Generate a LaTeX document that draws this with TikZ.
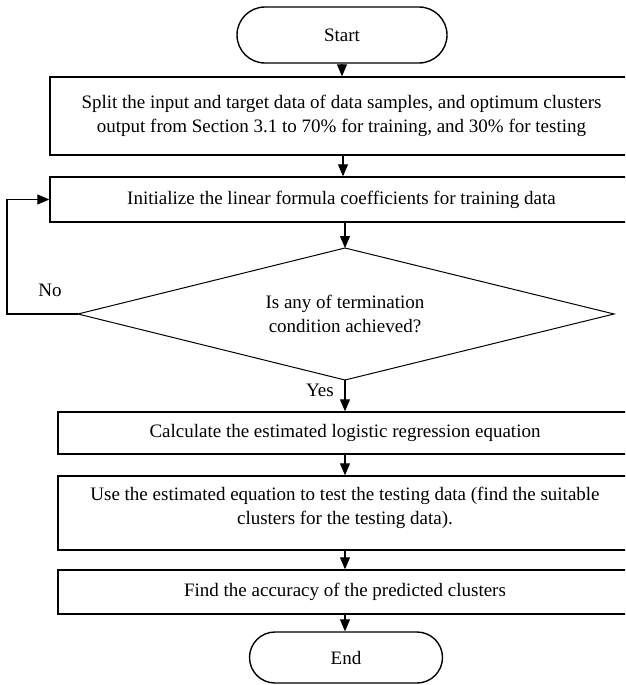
\documentclass[tikz,border=0pt]{standalone}
\usepackage{fontspec}
\setmainfont{Liberation Serif}
\usetikzlibrary{arrows.meta}
\begin{document}
\begin{tikzpicture}[x=1pt,y=-1pt,
  every node/.style={font=\fontsize{19}{24}\selectfont},
  procbox/.style={draw, line width=1.4pt, rectangle, inner sep=0pt, align=center},
  termbox/.style={draw, line width=1.4pt, rectangle, inner sep=0pt, align=center},
  decline/.style={draw, line width=1pt, line join=miter},
  conn/.style={line width=1.1pt, -{Triangle[length=12pt,width=10pt]}},
  lbl/.style={inner sep=0pt}]
\useasboundingbox (0,0) rectangle (625,685);
\clip (0,0) rectangle (625,685);
\node[termbox, minimum width=210pt, minimum height=56pt, rounded corners=28pt] (start) at (342,35) {Start};
\node[procbox, minimum width=583pt, minimum height=78pt] (split) at (341.5,116)
  {Split the input and target data of data samples, and optimum clusters\\output from Section 3.1 to 70\% for training, and 30\% for testing};
\node[procbox, minimum width=583pt, minimum height=45pt] (init) at (341.5,199.5)
  {Initialize the linear formula coefficients for training data};
\coordinate (dect) at (345,248);
\coordinate (decb) at (345,380);
\coordinate (decl) at (78,314);
\coordinate (decr) at (614,314);
\draw[decline] (dect) -- (decr) -- (decb) -- (decl) -- cycle;
\node[lbl, align=center] (dec) at (345,314)
  {Is any of termination\\condition achieved?};
\node[procbox, minimum width=574pt, minimum height=42pt] (calc) at (345,433)
  {Calculate the estimated logistic regression equation};
\node[procbox, minimum width=574pt, minimum height=74pt] (use) at (345,513)
  {};
\node[lbl, align=center] (usetxt) at (345,508)
  {Use the estimated equation to test the testing data (find the suitable\\clusters for the testing data).};
\node[procbox, minimum width=574pt, minimum height=44pt] (find) at (345,592)
  {Find the accuracy of the predicted clusters};
\node[termbox, minimum width=193pt, minimum height=51pt, rounded corners=25.5pt] (end) at (346,657.5) {End};
\coordinate (lb) at (7,314);
\coordinate (lt) at (7,199.5);
\node[lbl] (no) at (50,290) {No};
\node[lbl] (yes) at (320,390) {Yes};
\draw[conn] (start.south -| 342,0) -- (split.north -| 342,0);
\draw[conn] (split.south -| 343,0) -- (init.north -| 343,0);
\draw[conn] (init.south -| 345,0) -- (dect);
\draw[conn] (decb) -- (calc.north);
\draw[conn] (calc.south) -- (use.north);
\draw[conn] (use.south) -- (find.north);
\draw[conn] (find.south) -- (end.north -| find.south);
\draw[conn] (decl) -- (lb) -- (lt) -- (init.west);
\end{tikzpicture}
\end{document}
